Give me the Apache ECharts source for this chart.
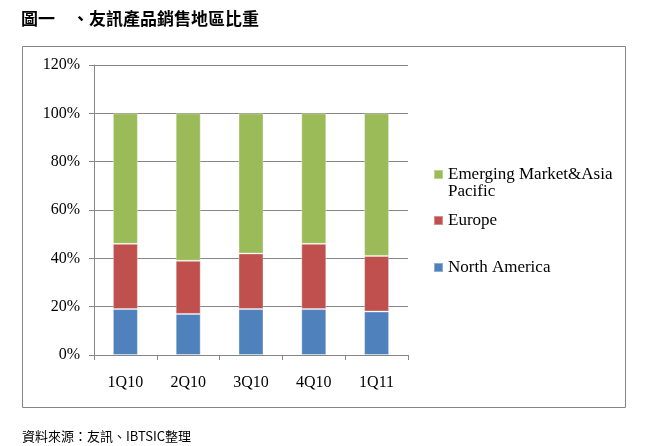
<!DOCTYPE html>
<html>
<head>
<meta charset="utf-8">
<script src="https://cdn.jsdelivr.net/npm/echarts@6/dist/echarts.min.js"></script>
<style>
html, body { margin: 0; padding: 0; background: #fff; }
#main { width: 646px; height: 446px; }
</style>
</head>
<body>
<div id="main"></div>
<script>
var quarters = ['1Q10', '2Q10', '3Q10', '4Q10', '1Q11'];
var northAmerica = [19, 17, 19, 19, 18];
var europe = [27, 22, 23, 27, 23];
var emerging = [54, 61, 58, 54, 59];
var seriesNames = ['North America', 'Europe', 'Emerging Market&Asia Pacific'];
var seriesColors = ['#4F81BD', '#C0504D', '#9BBB59'];

var chart = echarts.init(document.getElementById('main'));

var serif = '"Liberation Serif", "DejaVu Serif", serif';
var cjk = '"Noto Sans CJK TC", "Noto Sans CJK SC", sans-serif';

// one legend per series so each entry can sit where the original puts it
function legendAt(name, top) {
    return {
        data: [name],
        left: 428,
        top: top,
        orient: 'vertical',
        icon: 'rect',
        itemWidth: 9,
        itemHeight: 9,
        itemGap: 0,
        selectedMode: false,
        formatter: function (n) {
            // blank first line keeps the icon level with the first text line
            return n === seriesNames[2] ? ' \nEmerging Market&Asia\nPacific' : n;
        },
        textStyle: {
            fontFamily: serif,
            fontSize: 17,
            color: '#000',
            lineHeight: 17
        }
    };
}

var option = {
    animation: false,
    backgroundColor: '#fff',
    title: {
        text: '圖一　、友訊產品銷售地區比重',
        left: 16,
        top: 5,
        textStyle: {
            fontFamily: cjk,
            fontSize: 17,
            fontWeight: 'bold',
            color: '#000'
        }
    },
    legend: [
        legendAt(seriesNames[2], 144),
        legendAt(seriesNames[1], 207),
        legendAt(seriesNames[0], 254)
    ],
    grid: {
        left: 94,
        right: 238,
        top: 65,
        bottom: 91
    },
    xAxis: {
        type: 'category',
        data: quarters,
        axisLine: { lineStyle: { color: '#868686', width: 1 } },
        axisTick: { show: true, length: 5, lineStyle: { color: '#868686' } },
        axisLabel: {
            fontFamily: serif,
            fontSize: 16,
            color: '#000',
            margin: 20
        }
    },
    yAxis: {
        type: 'value',
        min: 0,
        max: 120,
        interval: 20,
        axisLine: { show: true, lineStyle: { color: '#868686', width: 1 } },
        axisTick: { show: true, length: 5, lineStyle: { color: '#868686' } },
        splitLine: { lineStyle: { color: '#868686', width: 1 } },
        axisLabel: {
            fontFamily: serif,
            fontSize: 16,
            color: '#000',
            margin: 14,
            formatter: '{value}%'
        }
    },
    series: [
        {
            name: seriesNames[0],
            type: 'bar',
            stack: 'total',
            data: northAmerica,
            barWidth: 25,
            itemStyle: { color: seriesColors[0], borderColor: 'rgba(255,255,255,0.35)', borderWidth: 1 }
        },
        {
            name: seriesNames[1],
            type: 'bar',
            stack: 'total',
            data: europe,
            barWidth: 25,
            itemStyle: { color: seriesColors[1], borderColor: 'rgba(255,255,255,0.35)', borderWidth: 1 }
        },
        {
            name: seriesNames[2],
            type: 'bar',
            stack: 'total',
            data: emerging,
            barWidth: 25,
            itemStyle: { color: seriesColors[2], borderColor: 'rgba(255,255,255,0.35)', borderWidth: 1 }
        }
    ],
    graphic: [
        {
            type: 'rect',
            shape: { x: 22.5, y: 46.5, width: 603, height: 361 },
            style: { fill: null, stroke: '#868686', lineWidth: 1 },
            z: -1
        },
        {
            type: 'text',
            left: 22,
            top: 430,
            style: {
                text: '資料來源：友訊、IBTSIC整理',
                fontFamily: cjk,
                fontSize: 13,
                fill: '#000'
            }
        }
    ]
};

chart.setOption(option);
</script>
</body>
</html>
